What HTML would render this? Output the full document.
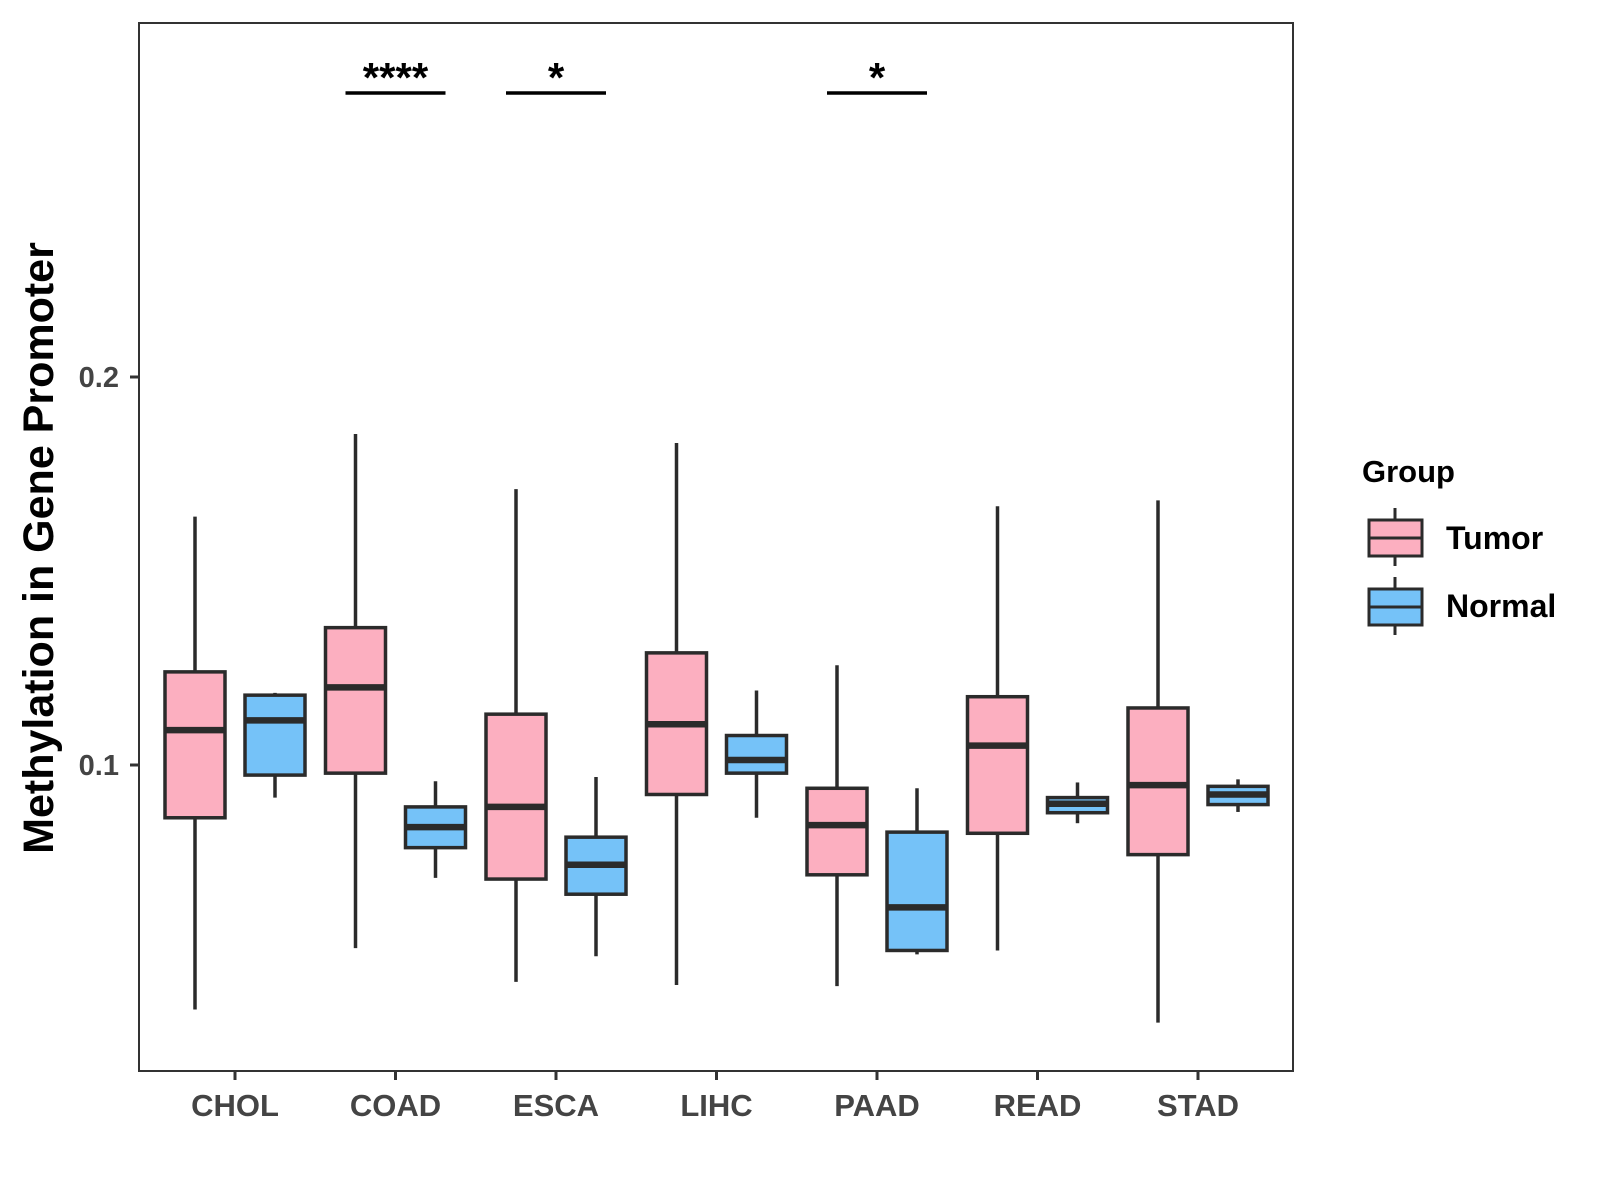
<!DOCTYPE html>
<html><head><meta charset="utf-8"><style>
html,body{margin:0;padding:0;background:#fff;}
svg{display:block;font-family:"Liberation Sans",Arial,sans-serif;}
</style></head><body>
<svg id="chart" width="1600" height="1200" viewBox="0 0 1600 1200">
<rect x="0" y="0" width="1600" height="1200" fill="#fff"/>
<g id="marks"></g>
<rect x="139" y="23" width="1154" height="1048" fill="none" stroke="#333" stroke-width="2"/>
<text transform="translate(53,548) rotate(-90)" text-anchor="middle" font-size="43" font-weight="bold" fill="#000">Methylation in Gene Promoter</text>
<g>
<text x="1362" y="482" font-size="31" font-weight="bold" fill="#000">Group</text>
<g>
<line x1="1395" y1="508" x2="1395" y2="566" stroke="#2b2b2b" stroke-width="3"/>
<rect x="1369" y="520" width="53" height="36" fill="#FCAFC0" stroke="#2b2b2b" stroke-width="3"/>
<line x1="1369" y1="538" x2="1422" y2="538" stroke="#2b2b2b" stroke-width="3"/>
<text x="1446" y="549" font-size="32" font-weight="bold" fill="#000">Tumor</text>
</g>
<g>
<line x1="1395" y1="577" x2="1395" y2="635" stroke="#2b2b2b" stroke-width="3"/>
<rect x="1369" y="589" width="53" height="36" fill="#75C2F8" stroke="#2b2b2b" stroke-width="3"/>
<line x1="1369" y1="607" x2="1422" y2="607" stroke="#2b2b2b" stroke-width="3"/>
<text x="1446" y="617" font-size="32" font-weight="bold" fill="#000">Normal</text>
</g>
</g>
</svg>
<script>
const categories = ["CHOL","COAD","ESCA","LIHC","PAAD","READ","STAD"];
const tumorLow = [0.037,0.0528,0.0441,0.0433,0.043,0.0522,0.0336];
const tumorQ1 = [0.0864,0.0979,0.0706,0.0924,0.0717,0.0824,0.0769];
const tumorMed = [0.109,0.120,0.0892,0.1105,0.0845,0.105,0.0948];
const tumorQ3 = [0.124,0.1354,0.1131,0.1289,0.094,0.1176,0.1147];
const tumorHigh = [0.164,0.1853,0.1711,0.183,0.1257,0.1667,0.1682];
const normalLow = [0.0916,0.0709,0.0507,0.0864,0.0512,0.085,0.0879];
const normalQ1 = [0.0974,0.0787,0.0667,0.0979,0.0522,0.0877,0.0898];
const normalMed = [0.1115,0.084,0.0743,0.1013,0.0633,0.09,0.0924];
const normalQ3 = [0.118,0.0892,0.0814,0.1076,0.0827,0.0916,0.0945];
const normalHigh = [0.1186,0.0958,0.0969,0.1192,0.094,0.0955,0.0963];
const yTicks = [0.1,0.2];
const yTickLabels = ["0.1","0.2"];
const sigCategories = ["COAD","ESCA","PAAD"];
const sigLabels = ["****","*","*"];

const NS = "http://www.w3.org/2000/svg";
const g = document.getElementById("marks");
function y(v){ return 765 - (v - 0.1) * 3880; }
function x(i){ return 235 + i * 160.5; }
function mk(tag, attrs, parent){
  const e = document.createElementNS(NS, tag);
  for (const k in attrs) e.setAttribute(k, attrs[k]);
  (parent || g).appendChild(e);
  return e;
}
const stroke = "#2b2b2b";
function box(cx, lo, q1, med, q3, hi, fill, name){
  const bg = mk("g", {});
  
  
  mk("line", {x1:cx, x2:cx, y1:y(hi), y2:y(lo), stroke:stroke, "stroke-width":3.5}, bg);
  mk("rect", {x:cx-30, y:y(q3), width:60, height:y(q1)-y(q3), fill:fill, stroke:stroke, "stroke-width":3.5}, bg);
  mk("line", {x1:cx-30, x2:cx+30, y1:y(med), y2:y(med), stroke:stroke, "stroke-width":6.5}, bg);
}
categories.forEach((c, i) => {
  const cx = x(i);
  box(cx-40, tumorLow[i], tumorQ1[i], tumorMed[i], tumorQ3[i], tumorHigh[i], "#FCAFC0", "box-tumor-" + c.toLowerCase());
  box(cx+40, normalLow[i], normalQ1[i], normalMed[i], normalQ3[i], normalHigh[i], "#75C2F8", "box-normal-" + c.toLowerCase());
  const t = mk("line", {x1:cx, x2:cx, y1:1071, y2:1080, stroke:"#333", "stroke-width":3});
  
  
  const lb = mk("text", {x:cx, y:1116, "text-anchor":"middle", "font-size":31, "font-weight":"bold", fill:"#444"});
  lb.textContent = c;
  
  
});
yTicks.forEach((v, i) => {
  const t = mk("line", {x1:130, x2:139, y1:y(v), y2:y(v), stroke:"#333", "stroke-width":3});
  
  
  const lb = mk("text", {x:119, y:y(v)+10, "text-anchor":"end", "font-size":29, "font-weight":"bold", fill:"#444"});
  lb.textContent = yTickLabels[i];
  
  
});
sigCategories.forEach((c, k) => {
  const cx = x(categories.indexOf(c));
  const l = mk("line", {x1:cx-50, x2:cx+50, y1:93, y2:93, stroke:"#000", "stroke-width":3.5});
  
  
  const s = mk("text", {x:cx, y:92, "text-anchor":"middle", "font-size":42, "font-weight":"bold", fill:"#000"});
  s.textContent = sigLabels[k];
  
  
});
</script>
</body></html>
